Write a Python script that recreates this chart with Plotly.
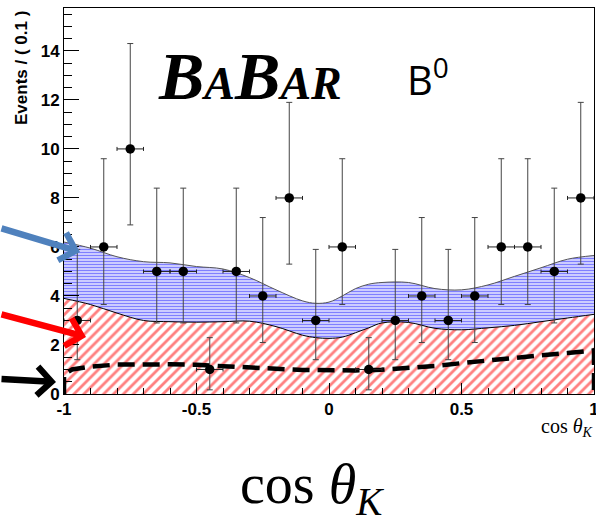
import plotly.graph_objects as go

# ---- data ----
bin_centers = [-0.95, -0.85, -0.75, -0.65, -0.55, -0.45, -0.35, -0.25, -0.15, -0.05,
               0.05, 0.15, 0.25, 0.35, 0.45, 0.55, 0.65, 0.75, 0.85, 0.95]
counts = [3, 6, 10, 5, 5, 1, 5, 4, 8, 3, 6, 1, 3, 4, 3, 4, 6, 6, 5, 8]
err_up = [2.9, 3.6, 4.3, 3.4, 3.4, 1.3, 3.4, 3.2, 3.9, 2.9, 3.6, 1.3, 2.9, 3.2, 2.9, 3.2, 3.6, 3.6, 3.4, 3.9]
err_down = [1.6, 2.35, 3.1, 2.1, 2.1, 0.83, 2.1, 1.9, 2.7, 1.6, 2.35, 0.83, 1.6, 1.9, 1.6, 1.9, 2.35, 2.35, 2.1, 2.7]
half_width = [0.05] * 20

curve_x = [-1.0, -0.9, -0.8, -0.7, -0.6, -0.5, -0.4, -0.3, -0.2, -0.1, -0.05,
           0.0, 0.05, 0.1, 0.15, 0.2, 0.3, 0.4, 0.5, 0.6, 0.7, 0.8, 0.9, 1.0]
total_y = [6.2, 5.95, 5.6, 5.4, 5.35, 5.2, 5.1, 4.75, 4.25, 3.8, 3.7,
           3.75, 4.0, 4.3, 4.48, 4.55, 4.55, 4.3, 4.25, 4.45, 4.8, 5.15, 5.5, 5.65]
bkg_y = [3.9, 3.65, 3.3, 3.0, 2.95, 2.93, 2.95, 2.97, 2.75, 2.4, 2.3,
         2.27, 2.32, 2.5, 2.7, 2.9, 2.92, 2.68, 2.62, 2.7, 2.8, 2.95, 3.1, 3.25]

dash_x = [-1.0, -1.0, -0.97, -0.9, -0.8, -0.7, -0.6, -0.5, -0.4, -0.3, -0.2, -0.1,
          0.0, 0.1, 0.2, 0.3, 0.4, 0.5, 0.6, 0.7, 0.8, 0.9, 1.0, 1.0]
dash_y = [0.0, 0.8, 1.0, 1.12, 1.2, 1.22, 1.21, 1.19, 1.15, 1.09, 1.03, 0.98,
          0.95, 0.96, 0.99, 1.05, 1.14, 1.26, 1.38, 1.48, 1.58, 1.67, 1.78, 0.0]

y_ticks = [0, 2, 4, 6, 8, 10, 12, 14]
x_tickvals = [-1, -0.5, 0, 0.5, 1]
x_ticktext = ["-1", "-0.5", "0", "0.5", "1"]

W, H = 596, 527
L, R, T, B = 64, 2, 8, 133
pw, ph = W - L - R, H - T - B


def px(x):
    return (x - L) / pw


def py(y):
    return (H - B - y) / ph


fig = go.Figure()

# background (red hatched) component
fig.add_trace(go.Scatter(
    x=curve_x, y=bkg_y, mode="lines", line=dict(color="black", width=1, shape="spline"),
    fill="tozeroy", fillcolor="rgba(0,0,0,0)",
    fillpattern=dict(shape="/", fgcolor="#ff0000", bgcolor="white", size=7, solidity=0.4),
    hoverinfo="skip"))
# signal (blue hatched) on top
fig.add_trace(go.Scatter(
    x=curve_x, y=total_y, mode="lines", line=dict(color="#555555", width=1, shape="spline"),
    fill="tonexty", fillcolor="rgba(0,0,0,0)",
    fillpattern=dict(shape="-", fgcolor="#0000ff", bgcolor="white", size=3, solidity=0.6),
    hoverinfo="skip"))
# dashed component
fig.add_trace(go.Scatter(
    x=dash_x, y=dash_y, mode="lines",
    line=dict(color="black", width=4.5, dash="17px,8px"),
    hoverinfo="skip"))
# data points
fig.add_trace(go.Scatter(
    x=bin_centers, y=counts, mode="markers",
    marker=dict(color="black", size=9.5),
    error_y=dict(type="data", symmetric=False, array=err_up, arrayminus=err_down,
                 color="#444444", thickness=1, width=3),
    error_x=dict(type="data", array=half_width, color="#222222", thickness=1, width=2),
    cliponaxis=False))

tick_font = dict(family="Liberation Sans", size=17, color="black", weight="bold")

fig.update_layout(
    width=W, height=H,
    margin=dict(l=L, r=R, t=T, b=B, pad=0, autoexpand=False),
    paper_bgcolor="white", plot_bgcolor="white",
    showlegend=False,
    xaxis=dict(range=[-1, 1], tickvals=x_tickvals, ticktext=x_ticktext,
               ticks="inside", ticklen=11, tickcolor="black", tickwidth=1,
               minor=dict(dtick=0.1, ticks="inside", ticklen=6, tickcolor="black"),
               showline=True, linecolor="black", linewidth=1, mirror=True,
               showgrid=False, zeroline=False, tickfont=tick_font,
               ticklabeloverflow="allow", automargin=False),
    yaxis=dict(range=[0, 15.75], tickvals=y_ticks,
               ticks="inside", ticklen=15, tickcolor="black", tickwidth=1,
               minor=dict(dtick=0.5, ticks="inside", ticklen=8, tickcolor="black"),
               showline=True, linecolor="black", linewidth=1, mirror=True,
               showgrid=False, zeroline=False, tickfont=tick_font,
               ticklabeloverflow="allow", automargin=False),
)

ann = []
# y axis title
ann.append(dict(text="Events / ( 0.1 )", x=px(21), y=py(68), xref="paper", yref="paper",
                textangle=-90, showarrow=False, xanchor="center", yanchor="middle",
                font=dict(family="Liberation Sans", size=17, color="black", weight="bold")))
# small x-axis title
ann.append(dict(text="cos <i>θ</i><sub><i>K</i></sub>", x=px(595), y=py(413),
                xref="paper", yref="paper", showarrow=False, xanchor="right", yanchor="top",
                font=dict(family="Liberation Serif", size=20, color="black")))
# big label
ann.append(dict(text="cos <i>θ</i><sub><i>K</i></sub>", x=px(312), y=py(488),
                xref="paper", yref="paper", showarrow=False, xanchor="center", yanchor="middle",
                font=dict(family="Liberation Serif", size=56, color="black")))
# BaBar logo
ann.append(dict(text="<b><i>B<span style='font-size:46px'>A</span>B<span style='font-size:46px'>AR</span></i></b>",
                x=px(250), y=py(76), xref="paper", yref="paper", showarrow=False,
                xanchor="center", yanchor="middle",
                font=dict(family="Liberation Serif", size=68, color="black")))
# B0
ann.append(dict(text="B<sup>0</sup>", x=px(405), y=py(78), xref="paper", yref="paper",
                showarrow=False, xanchor="left", yanchor="middle",
                font=dict(family="Open Sans", size=40, color="black")))
# arrows
for (tx, ty, axp, ayp, col) in [(80, 252, 0, 228, "#4f81bd"),
                                (86, 337, 0, 314, "#ff0000"),
                                (56, 382, 0, 379, "#000000")]:
    ann.append(dict(text="", x=px(tx), y=py(ty), xref="paper", yref="paper",
                    ax=axp - tx, ay=ayp - ty, axref="pixel", ayref="pixel",
                    showarrow=True, arrowhead=4, arrowwidth=6.5, arrowsize=0.85,
                    arrowcolor=col))
fig.update_layout(annotations=ann)

fig.write_html("out.html")
